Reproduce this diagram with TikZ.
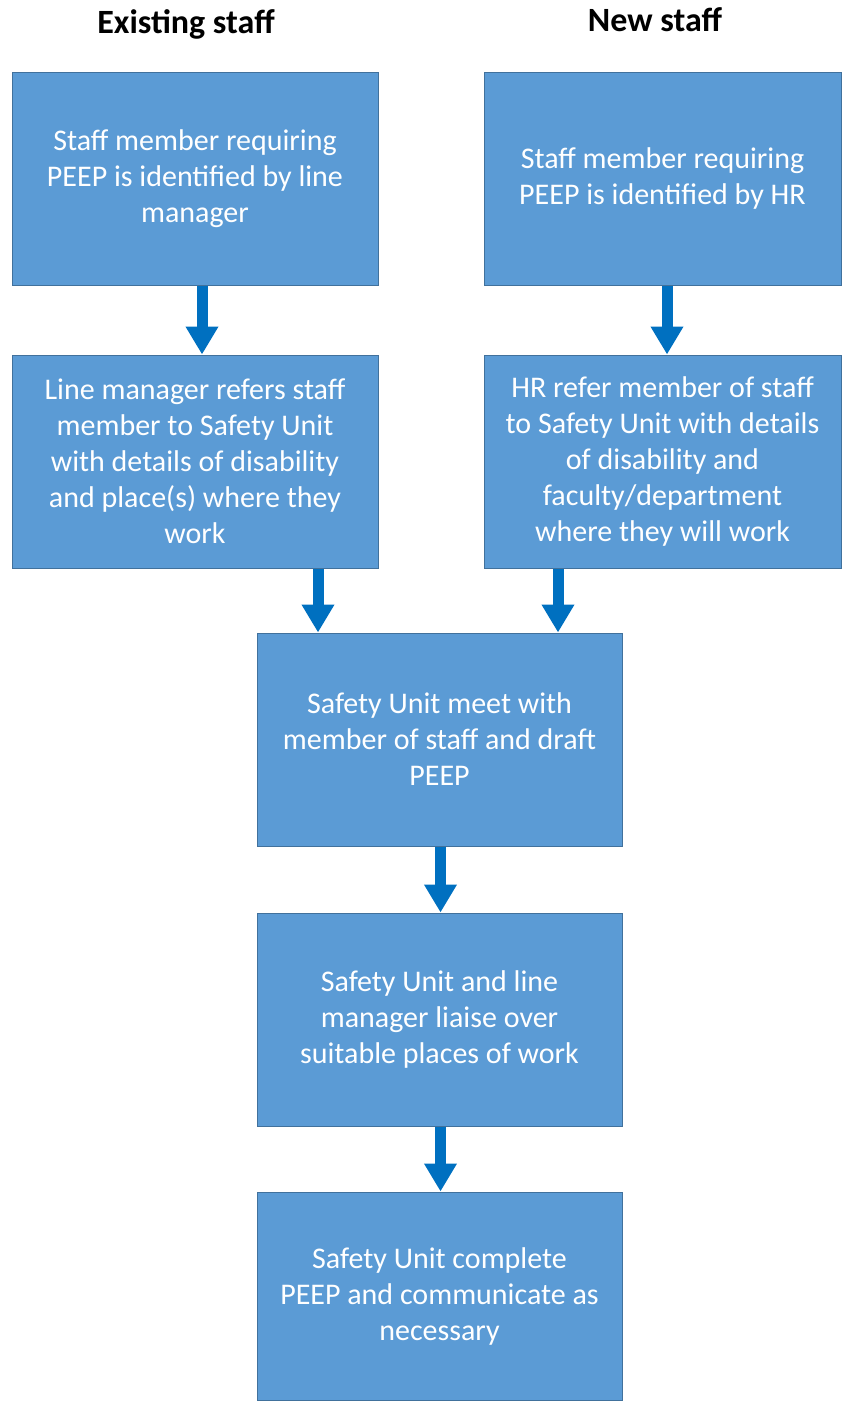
\documentclass[tikz,border=0pt]{standalone}
\usepackage{fontspec}
\setmainfont{Carlito}
\usetikzlibrary{arrows.meta,positioning}
\definecolor{peepfill}{HTML}{5B9BD5}
\definecolor{peepedge}{HTML}{41719C}
\definecolor{peeparrow}{HTML}{0070C0}
\tikzset{
  stepbx/.style={draw=peepedge, line width=1pt, fill=peepfill, text=white, align=center, minimum width=366pt, minimum height=213pt, inner sep=0pt, font=\fontsize{30}{36}\selectfont},
  hd/.style={font=\fontsize{34}{40}\selectfont\bfseries},
  arr/.style={-{Triangle[length=28pt,width=31pt]}, line width=11pt, color=peeparrow},
}

\begin{document}
\begin{tikzpicture}[x=1pt, y=-1pt]
  \useasboundingbox (0,0) rectangle (842,1401);
  % column headings
  \node[hd] (hexist) at (186,24) {Existing staff};
  \node[hd] (hnew) at (655,20) {New staff};
  % existing staff column
  \node[stepbx] (ex1) at (195,178.5) {Staff member requiring\\PEEP is identified by line\\manager};
  \node[stepbx] (ex2) at (195,461.5) {Line manager refers staff\\member to Safety Unit\\with details of disability\\and place(s) where they\\work};
  % new staff column
  \node[stepbx, minimum width=357pt] (nw1) at (662.5,178.5) {Staff member requiring\\PEEP is identified by HR};
  \node[stepbx, minimum width=357pt] (nw2) at (662.5,461.5) {HR refer member of staff\\to Safety Unit with details\\of disability and\\faculty/department\\where they will work};
  % common steps
  \node[stepbx, minimum width=365pt] (meet) at (439.5,739.5) {Safety Unit meet with\\member of staff and draft\\PEEP};
  \node[stepbx, minimum width=365pt] (liaise) at (439.5,1019.5) {Safety Unit and line\\manager liaise over\\suitable places of work};
  \node[stepbx, minimum width=365pt, minimum height=208pt] (done) at (439.5,1296) {Safety Unit complete\\PEEP and communicate as\\necessary};
  \draw[arr] ([xshift=7pt]ex1.south) -- ([xshift=7pt]ex1.south |- ex2.north);
  \draw[arr] ([xshift=4.5pt]nw1.south) -- ([xshift=4.5pt]nw1.south |- nw2.north);
  \draw[arr] ([xshift=123pt]ex2.south) -- ([xshift=123pt]ex2.south |- meet.north);
  \draw[arr] ([xshift=-104.5pt]nw2.south) -- ([xshift=-104.5pt]nw2.south |- meet.north);
  \draw[arr] ([xshift=1pt]meet.south) -- ([xshift=1pt]liaise.north);
  \draw[arr] ([xshift=1pt]liaise.south) -- ([xshift=1pt]done.north);
\end{tikzpicture}
\end{document}
